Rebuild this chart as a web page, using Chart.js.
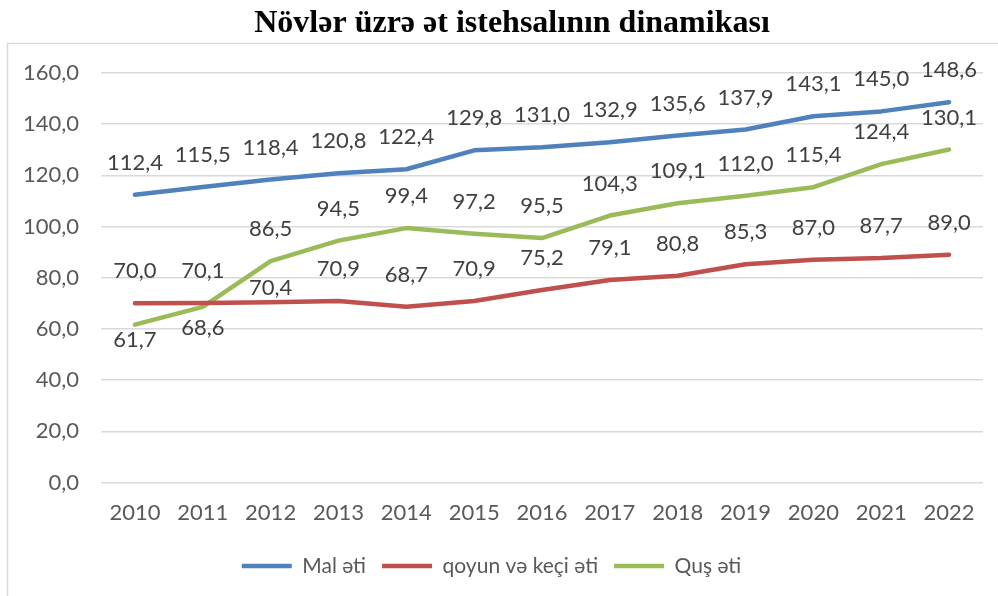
<!DOCTYPE html>
<html><head><meta charset="utf-8">
<script src="https://cdn.jsdelivr.net/npm/chart.js@4"></script>
<style>html,body{margin:0;padding:0;background:#fff}canvas{display:block}</style>
</head><body>
<canvas id="c" width="998" height="596"></canvas>
<script>
const years = ['2010','2011','2012','2013','2014','2015','2016','2017','2018','2019','2020','2021','2022'];
const malEti = [112.4,115.5,118.4,120.8,122.4,129.8,131.0,132.9,135.6,137.9,143.1,145.0,148.6];
const qoyunEti = [70.0,70.1,70.4,70.9,68.7,70.9,75.2,79.1,80.8,85.3,87.0,87.7,89.0];
const qusEti = [61.7,68.6,86.5,94.5,99.4,97.2,95.5,104.3,109.1,112.0,115.4,124.4,130.1];
const seriesNames = ['Mal əti','qoyun və keçi əti','Quş əti'];
const chartTitle = 'Növlər üzrə ət istehsalının dinamikası';
const yMin = 0, yMax = 160, yStep = 20;

// data label placement: default above the point; a few exceptions
const labelDefaultDy = -32;
const labelDy = { 1: {2: -14}, 2: {0: 15, 1: 21} };

const fmt = v => v.toFixed(1).replace('.', ',');

const borderPlugin = {
  id: 'frame',
  beforeDraw(chart) {
    const ctx = chart.ctx;
    ctx.save();
    ctx.strokeStyle = '#d9d9d9';
    ctx.lineWidth = 1.5;
    ctx.strokeRect(7.5, 43.5, 1200, 1000);
    ctx.restore();
  },
  afterLayout(chart) {
    if (chart.titleBlock) { chart.titleBlock.left += 20.5; chart.titleBlock.right += 20.5; }
  }
};

const labelPlugin = {
  id: 'valueLabels',
  afterDatasetsDraw(chart) {
    const ctx = chart.ctx;
    ctx.save();
    ctx.font = '22px Lato';
    ctx.fillStyle = '#404040';
    ctx.textAlign = 'center';
    ctx.textBaseline = 'middle';
    chart.data.datasets.forEach((ds, di) => {
      const meta = chart.getDatasetMeta(di);
      meta.data.forEach((el, i) => {
        const dy = (labelDy[di] && labelDy[di][i] !== undefined) ? labelDy[di][i] : labelDefaultDy;
        ctx.fillText(fmt(ds.data[i]), el.x, el.y + dy);
      });
    });
    ctx.restore();
  }
};

Chart.defaults.font.family = 'Lato';
Chart.defaults.font.size = 22;
Chart.defaults.color = '#595959';

const mk = (label, data, color) => ({
  label, data, borderColor: color, backgroundColor: color,
  borderWidth: 4.5, borderCapStyle: 'round', borderJoinStyle: 'round',
  pointRadius: 0, pointHoverRadius: 0, tension: 0, fill: false
});

new Chart(document.getElementById('c'), {
  type: 'line',
  data: {
    labels: years,
    datasets: [
      mk(seriesNames[0], malEti, '#4f81bd'),
      mk(seriesNames[1], qoyunEti, '#c0504d'),
      mk(seriesNames[2], qusEti, '#9bbb59')
    ]
  },
  options: {
    responsive: false,
    animation: false,
    events: [],
    layout: { padding: { left: 0, right: 15, top: 0, bottom: 9.5 } },
    plugins: {
      title: {
        display: true, text: chartTitle, color: '#000',
        font: { family: 'Liberation Serif', size: 32, weight: 'bold', lineHeight: 1.2 },
        padding: { top: 4.5, bottom: 30.1 }
      },
      legend: {
        position: 'bottom',
        labels: {
          usePointStyle: true, pointStyle: 'line', pointStyleWidth: 50,
          padding: 16, color: '#595959', font: { size: 21 }
        }
      },
      tooltip: { enabled: false }
    },
    scales: {
      x: {
        offset: true,
        grid: { display: false, drawTicks: false },
        border: { display: false },
        ticks: { padding: 17, color: '#595959' },
        afterFit: s => { s.height = 57; }
      },
      y: {
        min: yMin, max: yMax,
        grid: { color: '#d9d9d9', lineWidth: 1.5, drawTicks: false },
        border: { display: false },
        ticks: { stepSize: yStep, padding: 22, color: '#595959', callback: v => fmt(v) },
        afterFit: s => { s.width = 101; }
      }
    }
  },
  plugins: [borderPlugin, labelPlugin]
});
</script>
</body></html>
